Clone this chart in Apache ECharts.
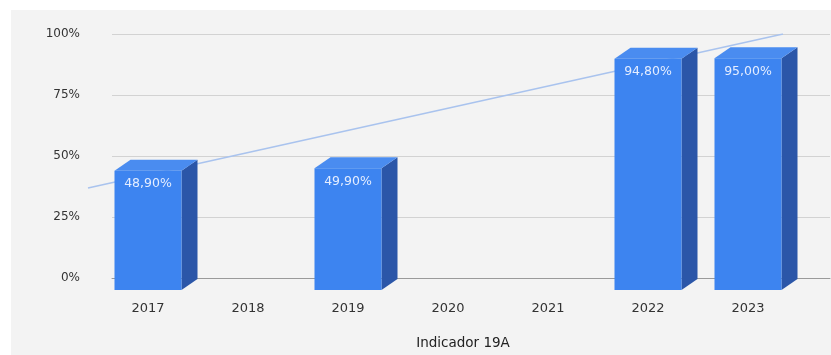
<!DOCTYPE html>
<html>
<head>
<meta charset="utf-8">
<script src="https://cdn.jsdelivr.net/npm/echarts@6/dist/echarts.min.js"></script>
<style>
  html, body { margin: 0; padding: 0; background: #fff; }
  #main { width: 831px; height: 355px; }
</style>
</head>
<body>
<div id="main"></div>
<script>
var years = ['2017', '2018', '2019', '2020', '2021', '2022', '2023'];
var values = [48.9, null, 49.9, null, null, 94.8, 95.0];
var labels = ['48,90%', '', '49,90%', '', '', '94,80%', '95,00%'];
// trend line ends (x in category units, y in %)
var trendX = [-0.76, 6.19];
var trendY = [36.9, 100];

var myChart = echarts.init(document.getElementById('main'));

var DX = 16, DY = 11; // depth of the 3d bars

var barData = [];
for (var i = 0; i < years.length; i++) {
    if (values[i] != null) barData.push([i, values[i], labels[i]]);
}

function renderBar(params, api) {
    var i = api.value(0);
    var v = api.value(1);
    var top = api.coord([i, v]);
    var bot = api.coord([i, 0]);
    var w = api.size([1, 0])[0] * 0.67;
    var x0 = top[0] - w / 2, x1 = top[0] + w / 2;
    var y0 = top[1], y1 = bot[1];
    return {
        type: 'group',
        children: [
            {
                type: 'polygon',
                shape: { points: [[x1, y0], [x1 + DX, y0 - DY], [x1 + DX, y1 - DY], [x1, y1]] },
                style: { fill: '#2b56a8' }
            },
            {
                type: 'polygon',
                shape: { points: [[x0, y0], [x0 + DX, y0 - DY], [x1 + DX, y0 - DY], [x1, y0]] },
                style: { fill: '#4a8cf0' }
            },
            {
                type: 'rect',
                shape: { x: x0, y: y0, width: w, height: y1 - y0 },
                style: { fill: '#3d84f0' }
            },
            {
                type: 'text',
                x: top[0], y: y0 + 7,
                style: {
                    text: api.value(2), fill: '#e4edff',
                    font: '12.5px "DejaVu Sans"', align: 'center', verticalAlign: 'top'
                }
            }
        ]
    };
}

option = {
    backgroundColor: '#ffffff',
    graphic: [{
        type: 'rect', left: 11, top: 10, z: -10,
        shape: { width: 820, height: 345 },
        style: { fill: '#f3f3f3' }
    }],
    title: {
        text: 'Indicador 19A',
        left: 458, top: 331, textAlign: 'center',
        textStyle: { fontFamily: 'DejaVu Sans', fontSize: 13.5, fontWeight: 'normal', color: '#222' }
    },
    grid: [
        { left: 112, right: 1, top: 34, bottom: 77 },   // back plane
        { left: 98, right: 33, top: 46, bottom: 65 },   // front plane
        { left: 88, right: 1, top: 34, bottom: 77 }     // trend line
    ],
    xAxis: [
        {
            type: 'value', gridIndex: 0, min: -0.52, max: 6.66,
            axisLabel: { show: false }, axisTick: { show: false }, splitLine: { show: false },
            axisLine: { show: true, onZero: false, lineStyle: { color: '#9a9a9a' } }
        },
        {
            type: 'category', gridIndex: 1, data: years,
            axisLine: { show: false }, axisTick: { show: false },
            axisLabel: { margin: 12, color: '#333', fontFamily: 'DejaVu Sans', fontSize: 13 }
        },
        {
            type: 'value', gridIndex: 2, min: -0.76, max: 6.66, show: false
        }
    ],
    yAxis: [
        {
            type: 'value', gridIndex: 0, min: 0, max: 100, interval: 25,
            axisLine: { show: false }, axisTick: { show: false },
            axisLabel: { formatter: '{value}%', margin: 32, color: '#333', fontFamily: 'DejaVu Sans', fontSize: 12 },
            splitLine: { lineStyle: { color: '#d2d2d2' } }
        },
        {
            type: 'value', gridIndex: 1, min: 0, max: 100, interval: 25,
            axisLine: { show: false }, axisTick: { show: false },
            axisLabel: { show: false }, splitLine: { show: false }
        },
        {
            type: 'value', gridIndex: 2, min: 0, max: 100, show: false
        }
    ],
    series: [
        {
            type: 'line', xAxisIndex: 2, yAxisIndex: 2,
            data: [[trendX[0], trendY[0]], [trendX[1], trendY[1]]],
            showSymbol: false, silent: true, z: 1,
            lineStyle: { color: '#a9c3ee', width: 1.5 }
        },
        {
            type: 'custom', xAxisIndex: 1, yAxisIndex: 1,
            renderItem: renderBar, data: barData, clip: false, z: 5
        }
    ]
};
myChart.setOption(option);
</script>
</body>
</html>
